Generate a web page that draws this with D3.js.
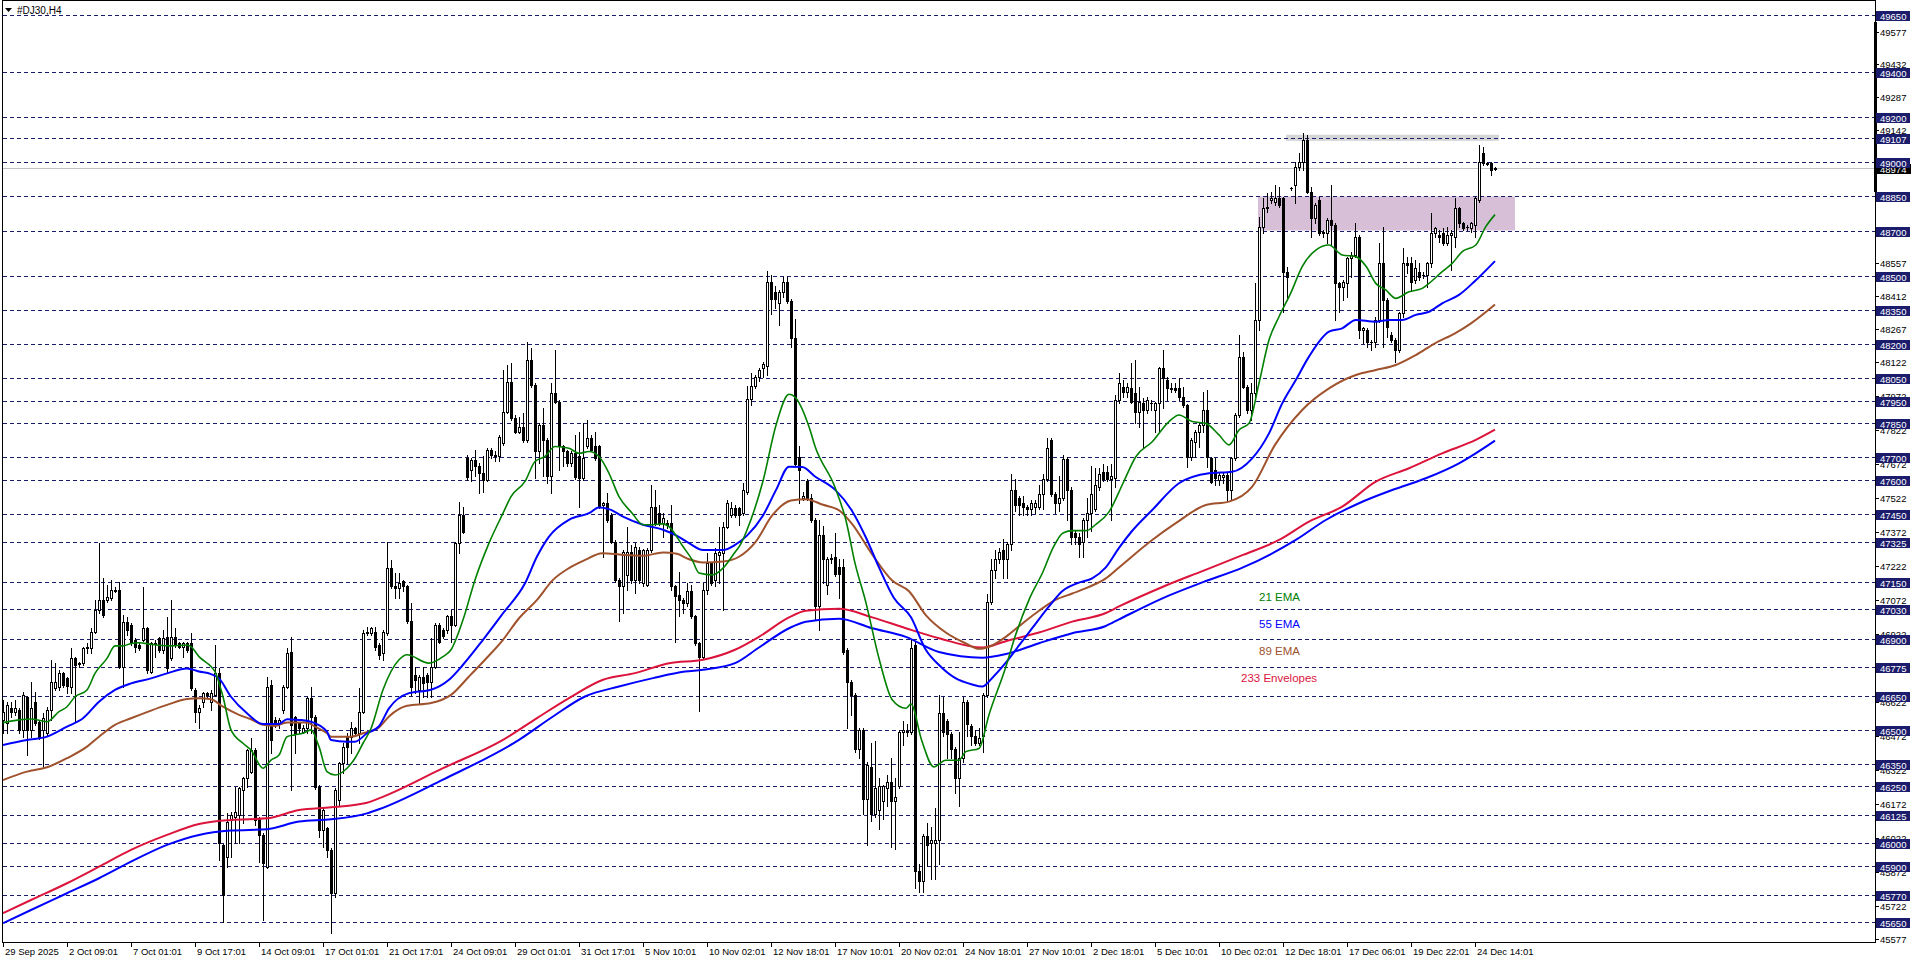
<!DOCTYPE html>
<html><head><meta charset="utf-8">
<script src="https://cdn.jsdelivr.net/npm/d3@7"></script>
<style>
html,body{margin:0;padding:0;background:#fff;overflow:hidden}
svg{display:block;font-family:"Liberation Sans",Arial,sans-serif}
</style></head><body>
<svg id="c" width="1916" height="963"></svg>
<script>
// ---------- DATA ----------
const symbolTitle = "#DJ30,H4";
// H4 candles [open, high, low, close]
const ohlc = [
[46543,46631,46484,46579],[46528,46623,46484,46609],[46594,46623,46557,46579],[46579,46631,46565,46594],[46587,46594,46484,46499],
[46499,46667,46469,46653],[46645,46650,46388,46499],[46499,46712,46469,46594],[46623,46667,46521,46528],[46535,46543,46460,46469],
[46499,46572,46337,46550],[46484,46601,46477,46587],[46587,46807,46543,46709],[46682,46792,46675,46709],[46690,46763,46675,46748],
[46748,46756,46690,46697],[46726,46734,46660,46694],[46690,46858,46660,46814],[46814,46822,46535,46785],[46792,46800,46778,46790],
[46792,46866,46785,46858],[46858,46880,46836,46866],[46858,46947,46836,46932],[46932,47071,46925,47027],[47027,47321,47013,47071],
[47071,47167,46995,47005],[47071,47138,47064,47086],[47079,47160,47071,47116],[47116,47130,47108,47113],[47116,47152,46770,46778],
[46778,47005,46690,46976],[46976,46998,46917,46939],[46961,46969,46875,46880],[46895,46903,46844,46866],[46873,46880,46851,46858],
[46895,47130,46890,46947],[46947,46952,46748,46763],[46756,46888,46748,46880],[46880,46895,46822,46877],[46903,46910,46844,46851],
[46851,46939,46836,46903],[46910,46998,46756,46770],[46814,47071,46807,46910],[46910,46947,46866,46873],[46880,46888,46858,46866],
[46866,46888,46822,46880],[46880,46888,46844,46851],[46880,46925,46675,46682],[46675,46682,46535,46579],[46579,46609,46506,46594],
[46623,46665,46601,46660],[46660,46667,46645,46653],[46623,46675,46587,46660],[46653,46873,46648,46748],[46748,46770,45926,45999],
[45992,45998,45654,45771],[45940,46131,45896,46095],[46102,46139,45940,46124],[46117,46249,45999,46139],[46124,46249,45999,46241],
[46234,46293,46087,46286],[46286,46415,46249,46410],[46315,46462,46308,46410],[46410,46418,46080,46102],[46109,46117,45918,46036],
[46036,46043,45661,45911],[45896,46734,45889,46690],[46697,46719,46396,46454],[46543,46557,46513,46528],[46528,46550,46506,46543],
[46587,46697,46572,46690],[46690,46858,46682,46836],[46844,46910,46234,46521],[46557,46562,46396,46484],[46528,46535,46484,46506],
[46491,46521,46484,46506],[46506,46645,46484,46638],[46638,46690,46484,46557],[46557,46565,46240,46249],[46249,46256,46028,46058],
[46058,46153,45984,46146],[46065,46073,45940,45970],[45970,45977,45602,45779],[45779,46241,45764,46234],[46190,46359,46168,46352],
[46352,46440,46308,46425],[46469,46484,46352,46425],[46469,46535,46396,46506],[46506,46513,46477,46484],[46484,46682,46440,46579],
[46579,46939,46572,46925],[46925,46954,46917,46932],[46925,46954,46917,46947],[46932,46954,46852,46866],[46873,46880,46810,46830],
[46840,46940,46808,46932],[46925,47329,46918,47212],[47212,47248,47123,47131],[47131,47190,47079,47125],[47123,47190,47079,47145],
[47153,47160,47109,47131],[47131,47138,46970,46977],[46977,47057,46653,46690],[46742,46778,46661,46720],[46676,46742,46617,46734],
[46734,46778,46646,46705],[46742,46750,46646,46712],[46712,46903,46646,46778],[46778,46969,46771,46962],[46962,46969,46881,46888],
[46940,46947,46903,46911],[46940,47006,46925,46999],[46999,47028,46888,46962],[46962,47329,46955,47322],[47322,47505,47278,47447],
[47447,47483,47366,47373],[47696,47711,47601,47615],[47645,47696,47594,47689],[47689,47733,47616,47660],[47660,47674,47542,47630],
[47630,47704,47549,47601],[47601,47740,47594,47733],[47733,47740,47696,47711],[47711,47726,47682,47704],[47704,47799,47682,47792],
[47762,48086,47755,47902],[47902,48108,47895,48034],[48034,48115,47865,47873],[47873,47887,47807,47814],[47814,47880,47807,47836],
[47836,47895,47770,47777],[47777,48210,47770,48130],[48130,48181,48012,48020],[48020,48027,47608,47726],[47726,47851,47674,47843],
[47843,47917,47616,47777],[47777,47784,47586,47616],[47616,48027,47542,47983],[47983,48174,47939,47946],[47946,47953,47645,47748],
[47748,47755,47660,47726],[47726,47733,47660,47674],[47674,47726,47660,47718],[47718,47799,47605,47615],[47704,47814,47483,47608],
[47608,47851,47601,47696],[47748,47865,47740,47785],[47785,47799,47726,47733],[47748,47814,47689,47696],[47748,47755,47476,47483],
[47491,47505,47263,47498],[47498,47542,47417,47425],[47447,47454,47322,47329],[47329,47337,47150,47160],[47160,47168,46977,47131],
[47131,47292,47013,47285],[47182,47395,47116,47285],[47285,47314,47145,47160],[47160,47322,47101,47307],[47292,47307,47145,47160],
[47145,47298,47131,47292],[47138,47300,47131,47292],[47292,47579,47285,47483],[47483,47557,47403,47410],[47454,47491,47403,47410],
[47410,47454,47351,47432],[47410,47425,47388,47403],[47410,47491,47116,47131],[47131,47138,46888,47087],[47094,47197,46999,47072],
[47072,47079,47013,47057],[47057,47145,47043,47109],[47109,47138,46991,47000],[47000,47006,46874,46881],[46881,46888,46580,46822],
[46822,47145,46815,47116],[47116,47278,47100,47234],[47234,47240,47138,47145],[47160,47300,47131,47278],[47270,47395,47145,47285],
[47278,47417,47028,47395],[47395,47513,47388,47498],[47447,47505,47439,47476],[47476,47491,47439,47447],[47476,47483,47403,47447],
[47453,47587,47444,47558],[47549,48016,47540,47959],[47959,48074,47930,48016],[48016,48064,48007,48055],[48055,48093,48035,48083],
[48093,48121,48055,48112],[48102,48522,48064,48475],[48475,48503,48331,48398],[48427,48455,48360,48398],[48379,48436,48284,48427],
[48427,48494,48408,48475],[48475,48494,48379,48389],[48389,48398,48188,48226],[48226,48312,47665,47673],[47702,47749,47501,47644],
[47520,47549,47511,47530],[47597,47606,47511,47520],[47520,47539,47415,47425],[47425,47434,46986,47043],[47043,47425,46938,47358],
[47358,47396,47148,47253],[47138,47262,47100,47253],[47253,47272,47234,47255],[47262,47367,47176,47186],[47215,47253,47081,47186],
[47215,47253,46833,46842],[46852,46861,46508,46709],[46709,46718,46566,46652],[46652,46661,46403,46413],[46413,46508,46375,46499],
[46499,46508,46127,46193],[46193,46356,45993,46346],[46336,46441,46098,46127],[46127,46451,46117,46241],[46146,46289,46060,46251],
[46184,46256,46107,46251],[46241,46298,46165,46270],[46270,46375,45983,46184],[46184,46289,45974,46203],[46251,46499,46241,46489],
[46489,46537,46432,46499],[46489,46527,46470,46492],[46489,46900,46480,46861],[46871,46890,45802,45878],[45878,45907,45783,45831],
[45831,46041,45783,46031],[46031,46088,45897,45993],[46002,46069,45840,46012],[46002,46155,45840,46012],[46012,46651,45907,46575],
[46575,46642,46470,46489],[46537,46547,46375,46480],[46480,46489,46375,46413],[46413,46422,46222,46289],[46289,46489,46165,46375],
[46375,46642,46356,46623],[46623,46632,46470,46527],[46518,46527,46432,46470],[46470,46499,46432,46441],[46441,46508,46432,46461],
[46470,46661,46403,46652],[46652,47100,46642,47062],[47062,47253,47052,47205],[47205,47291,47167,47253],[47253,47300,47234,47281],
[47291,47339,47167,47253],[47253,47329,47167,47320],[47320,47625,47291,47558],[47558,47606,47463,47491],[47520,47530,47444,47491],
[47501,47530,47444,47482],[47482,47491,47444,47472],[47472,47511,47444,47501],[47482,47511,47453,47501],[47482,47577,47472,47539],
[47539,47625,47472,47606],[47606,47787,47596,47740],[47778,47787,47530,47539],[47539,47549,47453,47501],[47501,47616,47463,47520],
[47520,47711,47511,47692],[47692,47701,47425,47558],[47558,47568,47320,47348],[47367,47377,47320,47348],[47348,47367,47262,47320],
[47329,47434,47262,47425],[47425,47520,47348,47453],[47453,47663,47377,47539],[47472,47654,47463,47577],[47568,47654,47558,47625],
[47635,47673,47596,47606],[47635,47663,47596,47606],[47606,47673,47425,47616],[47607,47975,47570,47953],[47953,48070,47938,48027],
[48012,48041,47968,47990],[47990,48027,47968,48012],[48004,48115,47940,47946],[47982,48129,47850,47902],[47902,48012,47836,47946],
[47938,47960,47747,47909],[47909,47968,47894,47953],[47938,47953,47909,47940],[47909,47946,47813,47938],[47938,48100,47813,48093],
[48093,48173,47916,48049],[48041,48056,47953,48004],[48004,48027,47990,48000],[48004,48027,47990,47997],[48004,48049,47953,47968],
[47968,48012,47924,47931],[47931,47936,47659,47703],[47703,47785,47690,47777],[47769,47821,47703,47813],[47813,47858,47747,47843],
[47843,47990,47813,47909],[47909,47997,47659,47703],[47696,47703,47586,47593],[47645,47696,47579,47608],[47600,47630,47579,47622],
[47615,47630,47586,47622],[47622,47630,47512,47556],[47556,47703,47512,47696],[47696,47894,47689,47887],[47887,48239,47880,48144],
[48144,48166,48004,48012],[48012,48019,47894,47909],[47909,48027,47865,47982],[47982,48467,47968,48306],[48306,48761,48262,48717],
[48717,48842,48688,48798],[48798,48864,48783,48805],[48834,48871,48820,48842],[48827,48901,48812,48842],[48842,48893,48805,48812],
[48842,48849,48342,48519],[48519,48541,48394,48497],[48886,48890,48880,48886],[48901,49003,48820,48981],[48981,49040,48967,49003],
[49003,49130,48967,49099],[49099,49121,48864,48871],[48871,48893,48673,48754],[48754,48820,48732,48812],[48834,48849,48680,48688],
[48695,48702,48673,48688],[48688,48754,48643,48746],[48746,48901,48636,48724],[48724,48732,48306,48467],[48467,48475,48342,48452],
[48452,48482,48394,48475],[48467,48585,48408,48577],[48577,48607,48497,48592],[48592,48732,48585,48673],[48673,48680,48225,48262],
[48262,48276,48203,48269],[48262,48269,48188,48210],[48210,48217,48173,48208],[48210,48320,48188,48306],[48306,48643,48298,48555],
[48555,48717,48188,48394],[48394,48401,48232,48276],[48240,48254,48210,48217],[48217,48225,48122,48173],[48173,48342,48165,48335],
[48335,48621,48320,48555],[48555,48585,48511,48548],[48555,48585,48438,48475],[48482,48570,48467,48533],[48519,48555,48482,48497],
[48504,48519,48489,48502],[48504,48563,48452,48555],[48555,48776,48541,48688],[48688,48717,48673,48710],[48680,48702,48651,48673],
[48688,48710,48636,48643],[48643,48717,48636,48680],[48680,48702,48526,48688],[48673,48842,48629,48798],[48798,48805,48717,48732],
[48732,48739,48702,48710],[48717,48724,48702,48714],[48710,48739,48695,48732],[48724,48849,48673,48842],[48834,49077,48827,49003],
[49040,49069,48989,48996],[48996,49003,48989,48994],[48996,49003,48945,48967],[48970,48978,48966,48974]
];
// Indicator readings [bar index, price]
const ema21 = [[0,46531],[4,46543],[7,46547],[11,46535],[14,46579],[16,46601],[18,46645],[21,46675],[23,46748],[26,46814],[28,46869],[30,46869],[32,46880],[34,46883],[37,46876],[39,46872],[42,46869],[46,46873],[47,46866],[49,46822],[52,46778],[53,46756],[55,46645],[57,46499],[60,46440],[62,46410],[65,46330],[67,46366],[69,46388],[71,46469],[73,46477],[75,46484],[77,46499],[79,46425],[81,46315],[83,46300],[86,46330],[88,46374],[90,46440],[92,46505],[95,46676],[99,46808],[101,46830],[106.5,46793],[110,46822],[112,46852],[115,46984],[118,47160],[121.5,47322],[125,47454],[127,47527],[130.5,47594],[133,47682],[135.5,47704],[138,47748],[141.5,47740],[144,47718],[146.5,47726],[149,47704],[151.5,47630],[154,47527],[157.3,47454],[160,47403],[162.5,47403],[165,47407],[166.5,47395],[170,47307],[172.3,47248],[174,47190],[177.3,47182],[180,47212],[182.5,47270],[184.5,47320],[186,47380],[190,47596],[193.3,47845],[196.5,47978],[197.8,47969],[201.5,47835],[203,47749],[208,47568],[210.7,47425],[213,47234],[215.7,47062],[219,46814],[222.3,46632],[225.7,46594],[227,46613],[229.7,46451],[232.7,46336],[235.7,46365],[239,46365],[240.7,46403],[244,46417],[246.5,46566],[250.7,46776],[253,46909],[256.7,47081],[260,47196],[262.5,47301],[265,47367],[267.5,47377],[270.8,47377],[273.3,47406],[276.5,47460],[280,47586],[283.2,47703],[287.3,47769],[291.5,47858],[294,47887],[297.3,47858],[300.7,47850],[304,47799],[306.5,47755],[309,47821],[311.5,47850],[314,48027],[316.5,48217],[319,48320],[321.9,48423],[324.8,48541],[328.2,48614],[331.5,48636],[334.8,48592],[338.2,48585],[340.8,48541],[343.2,48467],[345.7,48438],[348.2,48401],[351.5,48430],[354.8,48445],[356.5,48467],[359.8,48519],[362.3,48555],[364.8,48607],[368.2,48636],[370.7,48717],[373,48770]];
const ema55 = [[0,46432],[6,46454],[11,46469],[16,46513],[20,46550],[24,46623],[28,46675],[32,46704],[37,46726],[41,46748],[46,46770],[49,46756],[52,46745],[54,46726],[57,46645],[61,46572],[65,46525],[69,46525],[71,46546],[74,46543],[77,46535],[81,46491],[82,46454],[86,46447],[88,46447],[91,46484],[94,46515],[96.5,46594],[101.5,46661],[107,46676],[111.5,46720],[115,46786],[120,46896],[125,47013],[130.5,47145],[133.5,47263],[136.5,47351],[141.5,47425],[146.5,47454],[149,47479],[151.5,47472],[155,47439],[160,47403],[165,47381],[168.5,47354],[171.5,47322],[175,47292],[180,47292],[183,47314],[186,47355],[190,47444],[193.3,47558],[196.5,47659],[199.8,47658],[203,47616],[208,47558],[212.3,47463],[215.7,47348],[219,47215],[222.7,47081],[227,46995],[230.7,46852],[234,46785],[238,46728],[242.3,46699],[244.8,46690],[247.3,46728],[250.7,46795],[254,46871],[257.3,46947],[261.5,47043],[264.8,47110],[269,47148],[272.3,47167],[275.7,47215],[279,47301],[282,47370],[287.3,47468],[294,47586],[301.5,47630],[307.3,47637],[312.3,47696],[316.5,47806],[319.8,47938],[323.2,48041],[326.5,48144],[331.5,48254],[334.8,48269],[338.2,48306],[343.2,48298],[346.5,48306],[349.8,48306],[353.2,48328],[356.5,48342],[359.8,48379],[364,48416],[367.8,48474],[373,48565]];
const ema89 = [[0,46278],[6,46315],[11,46334],[16,46374],[21,46425],[24,46469],[28,46521],[32,46550],[37,46584],[41,46609],[46,46635],[49,46638],[52,46634],[55,46601],[59,46565],[62,46546],[65,46521],[68,46516],[71,46532],[76,46532],[78,46513],[81,46484],[82,46469],[87,46469],[90,46484],[94,46510],[96.5,46558],[101,46605],[107,46617],[112,46653],[116.5,46734],[120.5,46808],[125,46896],[129,46991],[133.5,47072],[137.5,47160],[141.5,47212],[145.5,47248],[149.8,47278],[155,47270],[160,47266],[165,47281],[168.5,47275],[171.5,47251],[175,47237],[180,47241],[184,47262],[188.2,47329],[192.3,47444],[197,47510],[200.7,47516],[205,47491],[209,47467],[212.3,47406],[217.3,47272],[222.3,47157],[226.5,47110],[230.7,47005],[235.7,46928],[240.7,46880],[244,46856],[247.3,46871],[250.7,46909],[254.8,46967],[259,47024],[263,47071],[267.3,47100],[271.5,47129],[275.7,47167],[279,47215],[287.3,47336],[293.2,47410],[300.7,47490],[306.5,47505],[312.3,47571],[318,47755],[324.8,47909],[331.5,48004],[338.2,48063],[343.2,48085],[348.2,48107],[353.2,48151],[358,48203],[363,48247],[367,48291],[373,48374]];
const envUpper = [[0,45691],[7,45749],[16,45823],[24,45896],[32,45970],[41,46036],[49,46084],[57,46102],[66,46109],[74,46146],[82,46158],[91,46178],[94,46197],[110,46330],[125,46455],[133.5,46551],[141.5,46639],[150,46720],[158,46749],[166.5,46793],[175,46808],[183,46852],[189,46909],[196.5,46995],[200.7,47024],[209,47033],[217.3,46995],[225.7,46947],[234,46903],[244.8,46862],[250.7,46890],[259,46928],[267.3,46976],[275.7,47014],[279,47043],[290,47130],[300,47200],[310,47270],[319,47336],[326.5,47417],[334.8,47483],[343.2,47593],[351.5,47652],[359.8,47718],[368.2,47777],[373,47822]];
const envLower = [[0,45647],[7,45705],[16,45779],[24,45845],[32,45918],[41,45992],[49,46036],[57,46055],[66,46061],[74,46095],[82,46105],[91,46131],[94,46149],[110,46280],[129,46455],[137.5,46558],[145.5,46646],[154,46690],[162.5,46727],[170.5,46756],[175,46764],[183,46793],[189,46862],[196.5,46947],[200.7,46976],[209,46989],[217.3,46947],[225.7,46909],[234,46842],[244.8,46817],[250.7,46833],[259,46881],[267.3,46925],[275.7,46957],[279,46986],[290,47080],[300,47150],[310,47215],[323.2,47336],[330.7,47424],[339,47498],[347.3,47556],[355.7,47608],[364,47674],[373,47774]];
// Horizontal level lines (labelled boxes on the price scale)
const levels = [49650,49400,49200,49107,49000,48850,48700,48500,48350,48200,48050,47950,47850,47700,47600,47450,47325,47150,47030,46900,46775,46650,46500,46350,46250,46125,46000,45900,45770,45650];
// Price scale labels
const scaleTicks = [49577,49432,49287,49142,48997,48852,48707,48557,48412,48267,48122,47972,47822,47672,47522,47372,47222,47072,46922,46772,46622,46472,46322,46172,46022,45872,45722,45577];
// Time axis labels, one every 16 bars
const timeLabels = ["29 Sep 2025","2 Oct 09:01","7 Oct 01:01","9 Oct 17:01","14 Oct 09:01","17 Oct 01:01","21 Oct 17:01","24 Oct 09:01","29 Oct 01:01","31 Oct 17:01","5 Nov 10:01","10 Nov 02:01","12 Nov 18:01","17 Nov 10:01","20 Nov 02:01","24 Nov 18:01","27 Nov 10:01","2 Dec 18:01","5 Dec 10:01","10 Dec 02:01","12 Dec 18:01","17 Dec 06:01","19 Dec 22:01","24 Dec 14:01"];
const barsPerLabel = 16;
const currentPrice = 48974;
// Zones: [fromBar, toBar, lowPrice, highPrice]
const demandZone = [313.75, 378, 48700, 48850];
const resistanceBand = [320.75, 374, 49095, 49122];
const legendLabels = ["21 EMA","55 EMA","89 EMA","233 Envelopes"];

// ---------- DRAW ----------
const W=1916,H=963;
const PL=3, PR=1875, PT=0, PB=942;
const svg=d3.select('#c');
const x=d3.scaleLinear().domain([0,ohlc.length-1]).range([3,1495]);
const y=d3.scaleLinear().domain([45564,49716]).range([PB,0]);
const px=v=>Math.round(x(v)), py=v=>Math.round(y(v));
const NAVY='#1c1c6c';

svg.append('rect').attr('width',W).attr('height',H).attr('fill','#fff');
svg.append('defs').append('clipPath').attr('id','clip').append('rect')
  .attr('x',PL).attr('y',1).attr('width',PR-PL).attr('height',PB-1);
const g=svg.append('g').attr('clip-path','url(#clip)');

// zones
g.append('rect').attr('x',x(demandZone[0])).attr('width',x(demandZone[1])-x(demandZone[0]))
  .attr('y',y(demandZone[3])).attr('height',y(demandZone[2])-y(demandZone[3])).attr('fill','#d8bfd8');
g.append('rect').attr('x',x(resistanceBand[0])).attr('width',x(resistanceBand[1])-x(resistanceBand[0]))
  .attr('y',y(resistanceBand[3])).attr('height',y(resistanceBand[2])-y(resistanceBand[3])).attr('fill','#d6d6d6');

// dashed levels
g.selectAll('line.lvl').data(levels).join('line').attr('class','lvl')
  .attr('x1',PL).attr('x2',PR).attr('y1',d=>py(d)+0.5).attr('y2',d=>py(d)+0.5)
  .attr('stroke',NAVY).attr('stroke-width',1).attr('stroke-dasharray','4,3').attr('shape-rendering','crispEdges');

// bid line
g.append('line').attr('x1',PL).attr('x2',PR).attr('y1',py(currentPrice)+0.5).attr('y2',py(currentPrice)+0.5)
  .attr('stroke','#c0c0c0').attr('shape-rendering','crispEdges');

// candles
const cg=g.append('g').attr('shape-rendering','crispEdges');
ohlc.forEach((d,i)=>{
  const [o,h,l,c]=d;
  const cx=px(i), yo=py(o), yc=py(c), yh=py(h), yl=py(l);
  const top=Math.min(yo,yc), bot=Math.max(yo,yc);
  const wt=Math.min(yh,top), wb=Math.max(yl,bot);
  cg.append('rect').attr('x',cx).attr('y',wt).attr('width',1).attr('height',wb-wt+1).attr('fill','#000');
  cg.append('rect').attr('x',cx-1).attr('y',top).attr('width',3).attr('height',bot-top+1).attr('fill','#000');
  if(c>o && bot-top>1){
    cg.append('rect').attr('x',cx).attr('y',top+1).attr('width',1).attr('height',bot-top-1).attr('fill','#fff');
  }
});

// indicator lines
const line=d3.line().x(d=>x(d[0])).y(d=>y(d[1])).curve(d3.curveMonotoneX);
[[envLower,'#0000ff',2],[envUpper,'#dc143c',2],[ema89,'#a0522d',2],[ema55,'#0000ff',2],[ema21,'#008000',1.6]]
 .forEach(([data,col,w])=>{
  g.append('path').datum(data).attr('d',line).attr('fill','none').attr('stroke',col).attr('stroke-width',w).attr('stroke-linejoin','round');
});

// legend texts
const legendStyle=[{x:1259,y:601,c:'#008000'},{x:1259,y:628,c:'#0000ff'},{x:1259,y:655,c:'#a0522d'},{x:1241,y:682,c:'#dc143c'}];
legendLabels.forEach((t,k)=>{
  svg.append('text').attr('x',legendStyle[k].x).attr('y',legendStyle[k].y).attr('fill',legendStyle[k].c)
   .attr('font-size','11.5px').text(t);
});

// frame
const fr=svg.append('g').attr('stroke','#000').attr('shape-rendering','crispEdges');
fr.append('line').attr('x1',2.5).attr('x2',2.5).attr('y1',0).attr('y2',PB+0.5);
fr.append('line').attr('x1',2).attr('x2',PR+1).attr('y1',0.5).attr('y2',0.5);
fr.append('line').attr('x1',2).attr('x2',PR+1).attr('y1',PB+0.5).attr('y2',PB+0.5);
fr.append('line').attr('x1',PR+0.5).attr('x2',PR+0.5).attr('y1',0).attr('y2',PB+0.5);
svg.append('rect').attr('x',PR-1).attr('y',22).attr('width',3).attr('height',170).attr('fill','#000');

// title
svg.append('path').attr('d','M5,8 L12,8 L8.5,12 Z').attr('fill','#000');
svg.append('text').attr('x',17).attr('y',14).attr('font-size','10px').attr('fill','#000').text(symbolTitle);

// price scale ticks
const ax=svg.append('g').attr('font-size','9.5px');
scaleTicks.forEach(v=>{
  const yy=py(v);
  ax.append('line').attr('x1',PR).attr('x2',PR+4).attr('y1',yy+0.5).attr('y2',yy+0.5).attr('stroke','#000').attr('shape-rendering','crispEdges');
  ax.append('text').attr('x',PR+5).attr('y',yy+3.5).attr('fill','#000').text(v);
});
// current price label
{
  const yy=py(currentPrice);
  ax.append('rect').attr('x',PR+1).attr('y',yy-4).attr('width',35).attr('height',10).attr('fill','#000');
  ax.append('text').attr('x',PR+5).attr('y',yy+4.5).attr('fill','#fff').text(currentPrice);
}
// level boxes
levels.forEach(v=>{
  const yy=py(v);
  ax.append('rect').attr('x',PR+1).attr('y',yy-4).attr('width',34).attr('height',10).attr('fill',NAVY);
  ax.append('text').attr('x',PR+5).attr('y',yy+4.5).attr('fill','#fff').text(v);
});

// time axis
const tx=svg.append('g').attr('font-size','9.5px');
timeLabels.forEach((t,k)=>{
  const xx=px(k*barsPerLabel);
  tx.append('line').attr('x1',xx+0.5).attr('x2',xx+0.5).attr('y1',PB).attr('y2',PB+5).attr('stroke','#000').attr('shape-rendering','crispEdges');
  tx.append('text').attr('x',xx+2).attr('y',955).attr('fill','#000').text(t);
});
</script>
</body></html>
